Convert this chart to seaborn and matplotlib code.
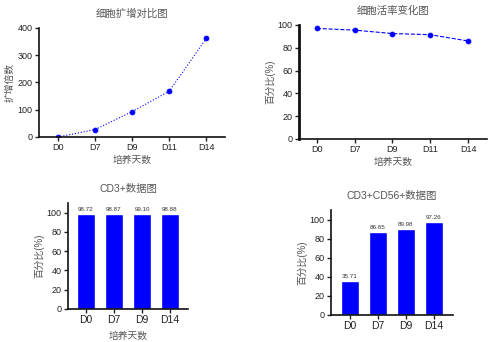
import matplotlib
matplotlib.use("Agg")
import matplotlib.pyplot as plt
import seaborn as sns
import pandas as pd

days_line = ["D0", "D7", "D9", "D11", "D14"]
expansion = [0, 27, 93, 168, 362]
viability = [97, 95.5, 92.5, 91.5, 86]

days_bar = ["D0", "D7", "D9", "D14"]
cd3 = [98.72, 98.87, 99.10, 98.88]
cd3cd56 = [35.71, 86.65, 89.98, 97.26]

sns.set_theme(style="ticks")
plt.rcParams['font.family'] = ['Liberation Sans', 'Noto Sans CJK SC', 'DejaVu Sans']
plt.rcParams['axes.linewidth'] = 1.2

BLUE = "#0000FF"
W, H = 500, 342
fig = plt.figure(figsize=(5, 3.42), dpi=100)


def ax_px(l, t, r, b):
    return fig.add_axes([l / W, (H - b) / H, (r - l) / W, (b - t) / H])


def style(ax):
    sns.despine(ax=ax)
    ax.tick_params(axis='both', labelsize=6.5, width=1.0, length=3, pad=1.5, colors='#222222')
    for s in ax.spines.values():
        s.set_color('#111111')


# top-left
ax1 = ax_px(39, 28, 225, 137)
df1 = pd.DataFrame({"day": days_line, "val": expansion})
sns.pointplot(data=df1, x="day", y="val", color=BLUE, markers="o", linestyles=":",
              markersize=3.5, linewidth=0.8, ax=ax1)
ax1.set_xlim(-0.5, 4.5)
ax1.set_ylim(0, 400)
ax1.set_yticks([0, 100, 200, 300, 400])
ax1.set_xlabel("培养天数", fontsize=7, labelpad=2, color='#555555')
ax1.set_ylabel("扩增倍数", fontsize=7, labelpad=2, color='#555555')
ax1.set_title("细胞扩增对比图", fontsize=7.5, pad=8, color='#555555')
style(ax1)

# top-right
ax2 = ax_px(299, 25, 487, 139)
df2 = pd.DataFrame({"day": days_line, "val": viability})
sns.pointplot(data=df2, x="day", y="val", color=BLUE, markers="o", linestyles="--",
              markersize=3.5, linewidth=0.8, ax=ax2)
ax2.set_xlim(-0.47, 4.5)
ax2.set_ylim(0, 100)
ax2.set_yticks([0, 20, 40, 60, 80, 100])
ax2.set_xlabel("培养天数", fontsize=7, labelpad=2, color='#555555')
ax2.set_ylabel("百分比(%)", fontsize=7, labelpad=2, color='#555555')
ax2.set_title("细胞活率变化图", fontsize=7.5, pad=8, color='#555555')
style(ax2)
ax2.spines['left'].set_linewidth(2.0)

# bottom-left
ax3 = ax_px(68, 203, 188, 309)
df3 = pd.DataFrame({"day": days_bar, "val": cd3})
sns.barplot(data=df3, x="day", y="val", color=BLUE, saturation=1, width=0.64, ax=ax3)
ax3.set_xlim(-0.64, 3.64)
ax3.set_ylim(0, 110)
ax3.set_yticks([0, 20, 40, 60, 80, 100])
for i, v in enumerate(cd3):
    ax3.text(i, v + 2, f"{v:.2f}", ha='center', va='bottom', fontsize=4.5, color='#333333')
ax3.set_xlabel("培养天数", fontsize=7, labelpad=4, color='#555555')
ax3.set_ylabel("百分比(%)", fontsize=7, labelpad=2, color='#555555')
ax3.set_title("CD3+数据图", fontsize=7.5, pad=8, color='#555555')
style(ax3)
ax3.tick_params(axis='x', labelsize=7.5)

# bottom-right
ax4 = ax_px(331, 210, 453, 315)
df4 = pd.DataFrame({"day": days_bar, "val": cd3cd56})
sns.barplot(data=df4, x="day", y="val", color=BLUE, saturation=1, width=0.64, ax=ax4)
ax4.set_xlim(-0.68, 3.68)
ax4.set_ylim(0, 110)
ax4.set_yticks([0, 20, 40, 60, 80, 100])
for i, v in enumerate(cd3cd56):
    ax4.text(i, v + 2, f"{v:.2f}", ha='center', va='bottom', fontsize=4.5, color='#333333')
ax4.set_xlabel("")
ax4.set_ylabel("百分比(%)", fontsize=7, labelpad=2, color='#555555')
ax4.set_title("CD3+CD56+数据图", fontsize=7.5, pad=8, color='#555555')
style(ax4)
ax4.tick_params(axis='x', labelsize=7.5)

fig.savefig("out.png", dpi=100, facecolor="white")
